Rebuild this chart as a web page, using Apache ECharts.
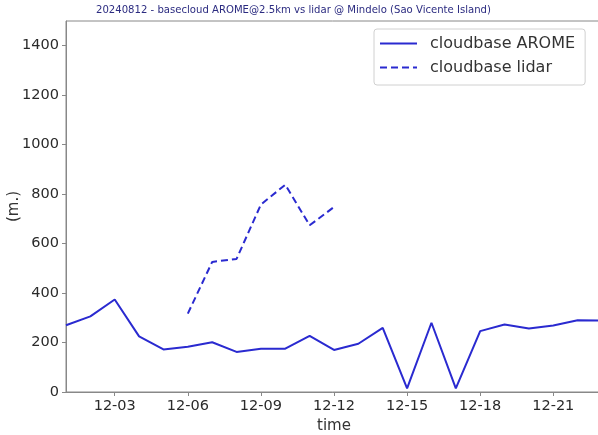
<!DOCTYPE html>
<html>
<head>
<meta charset="utf-8">
<script src="https://cdn.jsdelivr.net/npm/echarts@6/dist/echarts.min.js"></script>
<style>
html,body{margin:0;padding:0;background:#fff;}
#chart{width:598px;height:435px;}
</style>
</head>
<body>
<div id="chart"></div>
<script>
const dayPrefix = '12-';
const aromeHours = [1,2,3,4,5,6,7,8,9,10,11,12,13,14,15,16,17,18,19,20,21,22,23];
const aromeValues = [270,306,374,225,172,183,201,162,175,175,227,170,195,259,15,280,15,246,273,257,269,290,289];
const lidarHours = [6,7,8,9,10,11,12];
const lidarValues = [317,526,538,758,838,674,748];
const xTickHours = [3,6,9,12,15,18,21];
const yTickValues = [0,200,400,600,800,1000,1200,1400];
const titleText = '20240812 - basecloud AROME@2.5km vs lidar @ Mindelo (Sao Vicente Island)';
const seriesNames = ['cloudbase AROME','cloudbase lidar'];

const FONT = 'DejaVu Sans';
const BLUE = '#2a2ad0';
const chart = echarts.init(document.getElementById('chart'), null, {renderer:'canvas'});
const pair = (h, v) => h.map((x, i) => [x, v[i]]);

chart.setOption({
  animation: false,
  backgroundColor: '#fff',
  textStyle: {fontFamily: FONT},
  title: {
    text: titleText,
    left: 96, top: 5, padding: 0,
    textStyle: {fontFamily: FONT, fontSize: 10.1, fontWeight: 'normal', color: '#2b2b80'}
  },
  grid: {left: 66, top: 21, right: -4, bottom: 43, show: true, borderColor: '#888', borderWidth: 1,
    backgroundColor: 'transparent', containLabel: false, outerBoundsMode: 'none'},
  legend: {
    orient: 'vertical',
    left: 374, top: 29,
    padding: [5, 10, 8, 5],
    itemGap: 5,
    itemWidth: 37, itemHeight: 14,
    backgroundColor: '#fff',
    borderColor: '#d0d0d0', borderWidth: 1, borderRadius: 3,
    itemStyle: {color: 'rgba(0,0,0,0)', borderColor: 'rgba(0,0,0,0)', borderWidth: 0},
    textStyle: {fontFamily: FONT, fontSize: 16, color: '#333', padding: [0,0,0,8], lineHeight: 19},
    data: seriesNames
  },
  xAxis: {
    type: 'value', min: 1, max: 23,
    name: 'time', nameLocation: 'middle', nameGap: 25,
    nameTextStyle: {fontFamily: FONT, fontSize: 15, color: '#333'},
    axisLine: {show: true, lineStyle: {color: '#888', width: 1}},
    axisTick: {show: true, inside: false, length: 4, lineStyle: {color: '#888'}, customValues: xTickHours},
    axisLabel: {show: true, customValues: xTickHours, margin: 7, fontFamily: FONT, fontSize: 14.5, color: '#2a2a2a',
      formatter: v => dayPrefix + String(v).padStart(2, '0')},
    splitLine: {show: false}
  },
  yAxis: {
    type: 'value', min: 0, max: 1500,
    name: '(m.)', nameLocation: 'middle', nameGap: 44, nameRotate: 90, nameMoveOverlap: false,
    nameTextStyle: {fontFamily: FONT, fontSize: 15, color: '#333'},
    axisLine: {show: true, lineStyle: {color: '#888', width: 1}},
    axisTick: {show: true, inside: false, length: 4, lineStyle: {color: '#888'}, customValues: yTickValues},
    axisLabel: {show: true, customValues: yTickValues, margin: 7, fontFamily: FONT, fontSize: 14.5, color: '#2a2a2a',
      formatter: v => String(v)},
    splitLine: {show: false}
  },
  series: [
    {
      name: seriesNames[0], type: 'line', data: pair(aromeHours, aromeValues),
      symbol: 'none', showSymbol: false,
      lineStyle: {color: BLUE, width: 2, type: 'solid'},
      itemStyle: {color: BLUE}
    },
    {
      name: seriesNames[1], type: 'line', data: pair(lidarHours, lidarValues),
      symbol: 'none', showSymbol: false,
      lineStyle: {color: BLUE, width: 2, type: [7, 4]},
      itemStyle: {color: BLUE}
    }
  ]
});
</script>
</body>
</html>
